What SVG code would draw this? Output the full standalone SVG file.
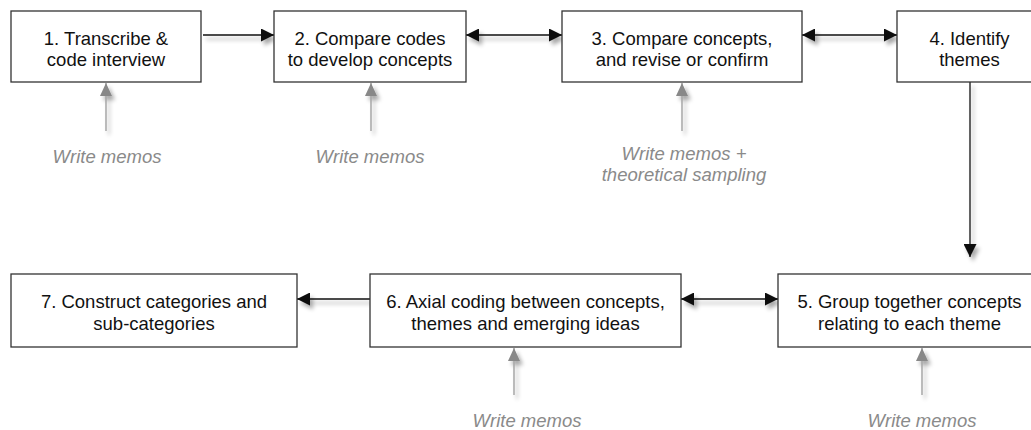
<svg xmlns="http://www.w3.org/2000/svg" width="1031" height="430" viewBox="0 0 1031 430">
<style>
.box{fill:#fff;stroke:#333;stroke-width:1.3}
.lbl{font-family:"Liberation Sans",Arial,sans-serif;font-size:18.5px;fill:#111;text-anchor:middle}
.memo{font-family:"Liberation Sans",Arial,sans-serif;font-size:18.5px;font-style:italic;fill:#8a8a8a;text-anchor:middle}
.conn{stroke:#111;stroke-width:1.3;fill:none}
.gconn{stroke:#999;stroke-width:1.3;fill:none}
</style>
<defs>
<filter id="sh" x="-50%" y="-50%" width="200%" height="200%">
<feGaussianBlur in="SourceAlpha" stdDeviation="2.2"/>
<feOffset dx="3" dy="4" result="b"/>
<feComponentTransfer><feFuncA type="linear" slope="0.35"/></feComponentTransfer>
<feMerge><feMergeNode/><feMergeNode in="SourceGraphic"/></feMerge>
</filter>
<marker id="ah" markerUnits="userSpaceOnUse" markerWidth="14" markerHeight="13" refX="13" refY="6.5" orient="auto-start-reverse">
<path d="M0,0 L13,6.5 L0,13 z" fill="#111"/>
</marker>
<marker id="gh" markerUnits="userSpaceOnUse" markerWidth="14" markerHeight="13" refX="13" refY="6" orient="auto">
<path d="M0,0 L13,6 L0,12 z" fill="#888"/>
</marker>
</defs>
<g id="connectors" filter="url(#sh)">
<line class="conn" x1="203" y1="35" x2="274" y2="35" marker-end="url(#ah)"/>
<line class="conn" x1="466" y1="35" x2="562" y2="35" marker-start="url(#ah)" marker-end="url(#ah)"/>
<line class="conn" x1="802" y1="35" x2="897" y2="35" marker-start="url(#ah)" marker-end="url(#ah)"/>
<line class="conn" x1="970" y1="82" x2="970" y2="257" marker-end="url(#ah)"/>
<line class="conn" x1="370" y1="299" x2="297" y2="299" marker-end="url(#ah)"/>
<line class="conn" x1="681" y1="299" x2="778" y2="299" marker-start="url(#ah)" marker-end="url(#ah)"/>
<line class="gconn" x1="106" y1="131" x2="106" y2="83" marker-end="url(#gh)"/>
<line class="gconn" x1="371" y1="131" x2="371" y2="83" marker-end="url(#gh)"/>
<line class="gconn" x1="682" y1="131" x2="682" y2="83" marker-end="url(#gh)"/>
<line class="gconn" x1="514" y1="395" x2="514" y2="348" marker-end="url(#gh)"/>
<line class="gconn" x1="922" y1="395" x2="922" y2="348" marker-end="url(#gh)"/>
</g>
<g id="node1">
<rect class="box" x="11" y="11" width="190" height="71"/>
<text class="lbl" x="106" y="45">1. Transcribe &amp;</text>
<text class="lbl" x="106" y="66">code interview</text>
</g>
<g id="node2">
<rect class="box" x="274" y="11" width="192" height="71"/>
<text class="lbl" x="370" y="45">2. Compare codes</text>
<text class="lbl" x="370" y="66">to develop concepts</text>
</g>
<g id="node3">
<rect class="box" x="562" y="11" width="240" height="71"/>
<text class="lbl" x="682" y="45">3. Compare concepts,</text>
<text class="lbl" x="682" y="66">and revise or confirm</text>
</g>
<g id="node4">
<rect class="box" x="897" y="11" width="145" height="71"/>
<text class="lbl" x="969.5" y="45">4. Identify</text>
<text class="lbl" x="969.5" y="66">themes</text>
</g>
<g id="node5">
<rect class="box" x="778" y="274" width="263" height="73"/>
<text class="lbl" x="909.5" y="308">5. Group together concepts</text>
<text class="lbl" x="909.5" y="330">relating to each theme</text>
</g>
<g id="node6">
<rect class="box" x="370" y="274" width="311" height="73"/>
<text class="lbl" x="525.5" y="308">6. Axial coding between concepts,</text>
<text class="lbl" x="525.5" y="330">themes and emerging ideas</text>
</g>
<g id="node7">
<rect class="box" x="11" y="274" width="286" height="73"/>
<text class="lbl" x="154" y="308">7. Construct categories and</text>
<text class="lbl" x="154" y="330">sub-categories</text>
</g>
<g id="memos">
<text class="memo" x="107" y="163">Write memos</text>
<text class="memo" x="370" y="163">Write memos</text>
<text class="memo" x="684" y="160">Write memos +</text>
<text class="memo" x="684" y="181">theoretical sampling</text>
<text class="memo" x="527" y="427">Write memos</text>
<text class="memo" x="922" y="427">Write memos</text>
</g>
</svg>
